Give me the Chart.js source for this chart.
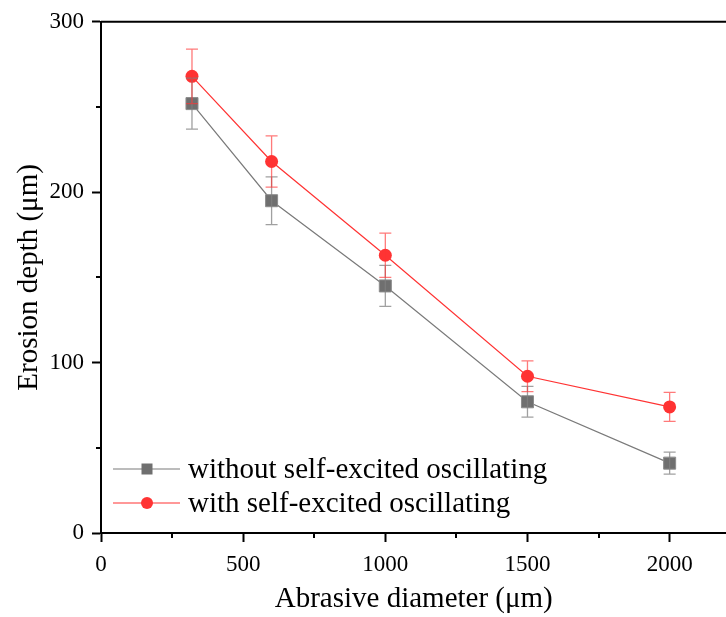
<!DOCTYPE html>
<html>
<head>
<meta charset="utf-8">
<script src="https://cdn.jsdelivr.net/npm/chart.js@4.4.0/dist/chart.umd.min.js"></script>
<style>
html, body { margin: 0; padding: 0; background: #fff; overflow: hidden; }
#wrap { width: 736px; height: 617px; position: relative; }
</style>
</head>
<body>
<div id="wrap"><canvas id="erosionChart"></canvas></div>
<script>
// Chart data
const diameters = [320, 600, 1000, 1500, 2000];
const depthWithout = [252, 195, 145, 77, 41];
const errWithout = [15, 14, 12, 9, 6.5];
const depthWith = [268, 218, 163, 92, 74];
const errWith = [16, 15, 13, 9, 8.5];

const xTicks = [0, 500, 1000, 1500, 2000];
const xMinorTicks = [250, 750, 1250, 1750];
const yTicks = [0, 100, 200, 300];
const yMinorTicks = [50, 150, 250];

const seriesLabels = ['without self-excited oscillating', 'with self-excited oscillating'];

const FONT = '"Liberation Serif", "Times New Roman", serif';
const GRAY = '#6f6f6f';
const RED = '#ff3333';

/**
 * Error bars, minor ticks, top frame line and the in-plot legend
 */
const extrasPlugin = {
    id: 'extras',
    afterDatasetsDraw(chart) {
        const ctx = chart.ctx;
        const xs = chart.scales.x;
        const ys = chart.scales.y;
        const errs = [errWithout, errWith];
        const errColors = ['rgba(128, 128, 128, 0.75)', 'rgba(255, 51, 51, 0.65)'];

        ctx.save();
        chart.data.datasets.forEach((ds, i) => {
            ctx.strokeStyle = errColors[i];
            ctx.lineWidth = 1.3;
            ds.data.forEach((p, j) => {
                const x = xs.getPixelForValue(p.x);
                const yt = ys.getPixelForValue(p.y + errs[i][j]);
                const yb = ys.getPixelForValue(p.y - errs[i][j]);
                ctx.beginPath();
                ctx.moveTo(x, yt); ctx.lineTo(x, yb);
                ctx.moveTo(x - 6, yt); ctx.lineTo(x + 6, yt);
                ctx.moveTo(x - 6, yb); ctx.lineTo(x + 6, yb);
                ctx.stroke();
            });
        });
        ctx.restore();
    },
    afterDraw(chart) {
        const ctx = chart.ctx;
        const area = chart.chartArea;
        const xs = chart.scales.x;
        const ys = chart.scales.y;

        ctx.save();
        ctx.strokeStyle = '#000';
        ctx.lineWidth = 2;

        // top frame line
        ctx.beginPath();
        ctx.moveTo(area.left, area.top);
        ctx.lineTo(chart.width, area.top);
        ctx.stroke();

        // minor ticks
        ctx.beginPath();
        xMinorTicks.forEach(v => {
            const x = Math.round(xs.getPixelForValue(v));
            ctx.moveTo(x, area.bottom);
            ctx.lineTo(x, area.bottom + 5);
        });
        yMinorTicks.forEach(v => {
            const y = Math.round(ys.getPixelForValue(v));
            ctx.moveTo(area.left, y);
            ctx.lineTo(area.left - 5, y);
        });
        ctx.stroke();

        // legend inside plot
        const rows = [469, 503];
        chart.data.datasets.forEach((ds, i) => {
            const y = rows[i];
            ctx.strokeStyle = ds.borderColor;
            ctx.lineWidth = 1.2;
            ctx.beginPath();
            ctx.moveTo(113, y);
            ctx.lineTo(180, y);
            ctx.stroke();

            ctx.fillStyle = ds.pointBackgroundColor;
            ctx.beginPath();
            if (ds.pointStyle === 'rect') {
                ctx.rect(141.5, y - 5.5, 11, 11);
            } else {
                ctx.arc(147, y, 6, 0, Math.PI * 2);
            }
            ctx.fill();

            ctx.fillStyle = '#000';
            ctx.font = '29px ' + FONT;
            ctx.textBaseline = 'middle';
            ctx.textAlign = 'left';
            ctx.fillText(ds.label, 188, y + 1);
        });
        ctx.restore();
    }
};

const ctx = document.getElementById('erosionChart');

new Chart(ctx.getContext('2d'), {
    type: 'line',
    data: {
        datasets: [
            {
                label: seriesLabels[0],
                data: diameters.map((d, i) => ({ x: d, y: depthWithout[i] })),
                borderColor: '#7a7a7a',
                borderWidth: 1.2,
                pointStyle: 'rect',
                pointRadius: 8.5,
                pointBackgroundColor: GRAY,
                pointBorderColor: '#8c8c8c',
                pointBorderWidth: 1,
                tension: 0
            },
            {
                label: seriesLabels[1],
                data: diameters.map((d, i) => ({ x: d, y: depthWith[i] })),
                borderColor: RED,
                borderWidth: 1.2,
                pointStyle: 'circle',
                pointRadius: 6.5,
                pointBackgroundColor: RED,
                pointBorderColor: RED,
                pointBorderWidth: 0,
                tension: 0
            }
        ]
    },
    options: {
        responsive: true,
        maintainAspectRatio: false,
        animation: false,
        layout: { padding: { top: 19, right: 0, left: 0, bottom: 0 } },
        plugins: {
            legend: { display: false },
            tooltip: { enabled: false }
        },
        scales: {
            x: {
                type: 'linear',
                min: 0,
                max: 2200,
                afterBuildTicks: axis => { axis.ticks = xTicks.map(v => ({ value: v })); },
                afterFit: axis => {
                    axis.height = 84;
                    axis.paddingLeft = 0;
                    axis.paddingRight = 0;
                },
                border: { display: true, color: '#000', width: 2 },
                grid: { drawOnChartArea: false, drawTicks: true, tickLength: 9, tickWidth: 2, tickColor: '#000' },
                ticks: {
                    color: '#000',
                    padding: 9,
                    maxRotation: 0,
                    font: { family: FONT, size: 23 },
                    callback: v => String(v)
                },
                title: {
                    display: true,
                    text: 'Abrasive diameter (μm)',
                    color: '#000',
                    font: { family: FONT, size: 29 },
                    padding: { top: 0, bottom: 0 }
                }
            },
            y: {
                type: 'linear',
                min: 0,
                max: 300,
                afterBuildTicks: axis => { axis.ticks = yTicks.map(v => ({ value: v })); },
                afterFit: axis => { axis.width = 101; },
                border: { display: true, color: '#000', width: 2 },
                grid: { drawOnChartArea: false, drawTicks: true, tickLength: 9, tickWidth: 2, tickColor: '#000' },
                ticks: {
                    color: '#000',
                    padding: 8,
                    font: { family: FONT, size: 23 },
                    callback: v => String(v)
                },
                title: {
                    display: true,
                    text: 'Erosion depth (μm)',
                    color: '#000',
                    font: { family: FONT, size: 29 },
                    padding: { top: 12, bottom: 0 }
                }
            }
        }
    },
    plugins: [extrasPlugin]
});
</script>
</body>
</html>
